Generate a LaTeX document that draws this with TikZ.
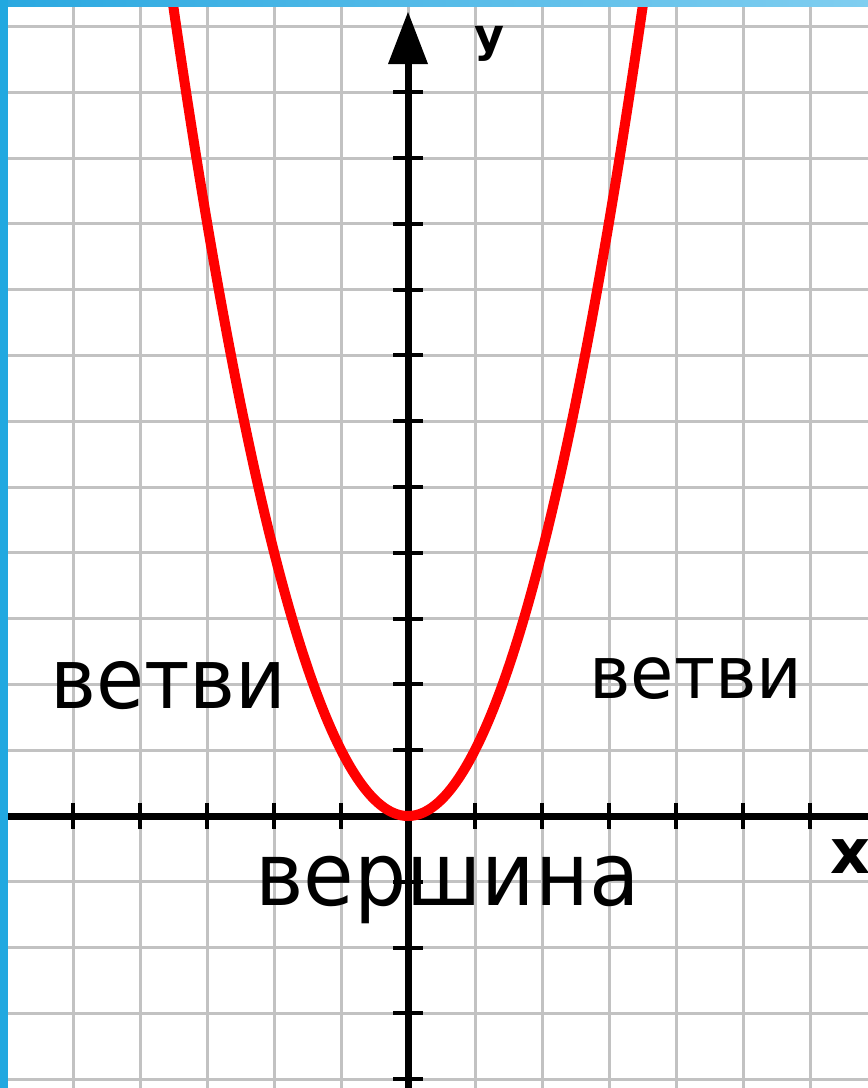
\documentclass[tikz,border=0pt]{standalone}
\usepackage{graphicx}
\usepackage{fontspec}
\setmainfont{DejaVu Sans}
\definecolor{stripL}{RGB}{42,168,224}
\definecolor{stripR}{RGB}{128,206,240}
\definecolor{sidebar}{RGB}{33,168,224}
\begin{document}
\begin{tikzpicture}[x=1pt,y=-1pt,
  gridline/.style={draw=black!24, line width=3},
  axisline/.style={draw=black, line width=7},
  tickline/.style={draw=black, line width=4},
  curve/.style={draw=red, line width=10},
  bigtext/.style={inner sep=0pt, anchor=base west, text=black},
  axlabel/.style={inner sep=0pt, font=\bfseries\fontsize{44}{44}\selectfont}]
\useasboundingbox (0,0) rectangle (868,1088);
\fill[white] (0,0) rectangle (868,1088);
\begin{scope}
\clip (0,0) rectangle (868,1088);
% grid
\foreach \k in {-6,...,6} {
  \draw[gridline] ({408+67*\k},0) -- ({408+67*\k},1088);
}
\foreach \j in {-5,...,13} {
  \draw[gridline] (0,{816-65.8*\j}) -- (868,{816-65.8*\j});
}
% axes
\coordinate (O) at (408,816);
\coordinate (xl) at (0,816);
\coordinate (xr) at (868,816);
\coordinate (yb) at (408,1088);
\coordinate (yt) at (408,60);
\draw[axisline] (xl) -- (xr);
\draw[axisline] (yb) -- (yt);
\fill[black] (388,64) -- (408,12) -- (428,64) -- cycle;
\foreach \k in {-5,...,6} {
  \draw[tickline] ({408+67*\k},803) -- ({408+67*\k},829);
}
\foreach \j in {-4,...,11} {
  \draw[tickline] (393,{816-65.8*\j}) -- (423,{816-65.8*\j});
}
% parabola
\draw[curve] plot[domain=-24.2:24.2, samples=161, smooth] ({408+10*\x}, {816-1.47*\x*\x});
\end{scope}
% labels
\node[axlabel, font=\bfseries\fontsize{46}{46}\selectfont] (ylab) at (489,44) {у};
\node[axlabel, font=\bfseries\fontsize{62}{62}\selectfont, anchor=base west] (xlab) at (830,873) {x};
\node[bigtext, font=\fontsize{84}{84}\selectfont] (lb) at (50,708) {\scalebox{0.93}[1]{ветви}};
\node[bigtext, font=\fontsize{73}{73}\selectfont] (rb) at (589,698) {\scalebox{0.965}[1]{ветви}};
\node[bigtext, font=\fontsize{88}{88}\selectfont] (vx) at (255,905) {\scalebox{0.935}[1]{вершина}};
% frame strips
\shade[left color=stripL, right color=stripR] (0,0) rectangle (868,6);
\fill[sidebar] (0,0) rectangle (8,1088);
\end{tikzpicture}
\end{document}
